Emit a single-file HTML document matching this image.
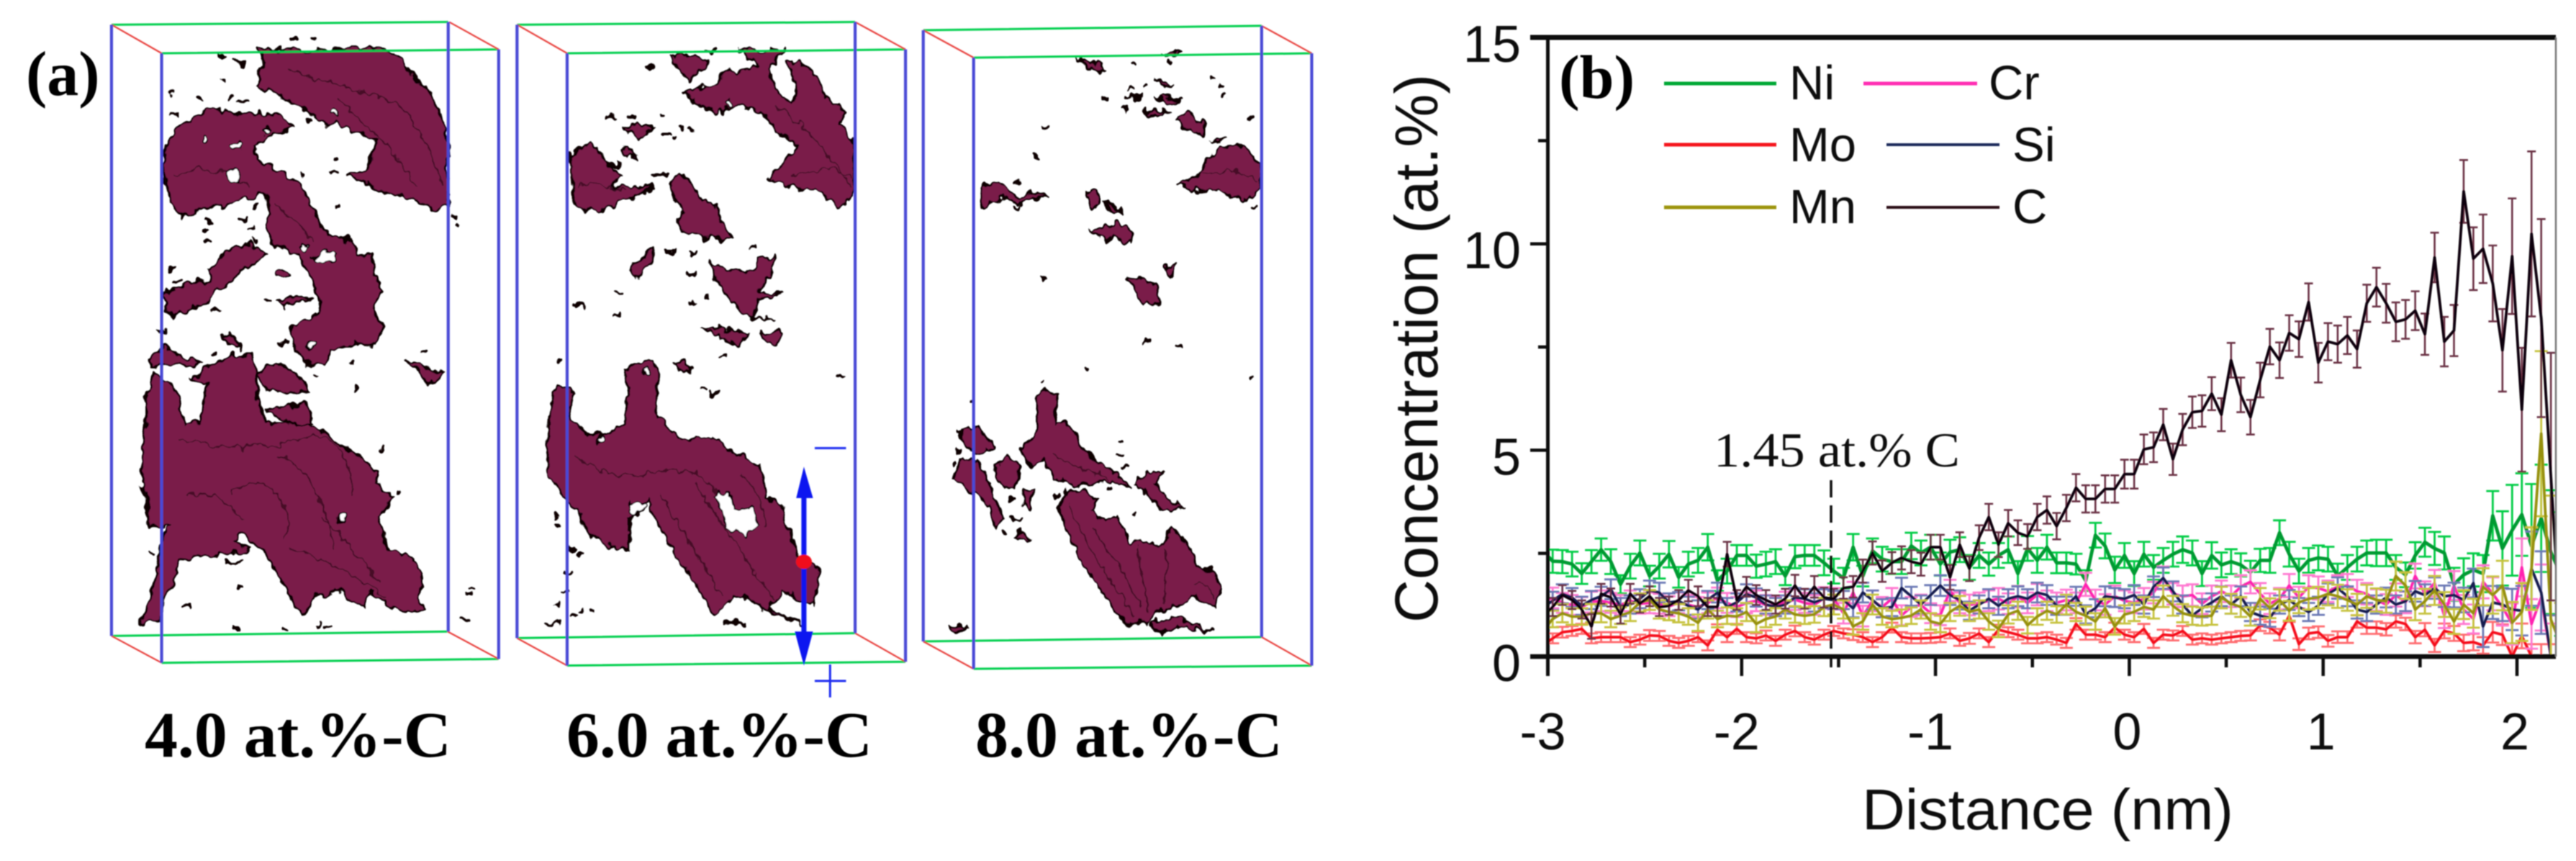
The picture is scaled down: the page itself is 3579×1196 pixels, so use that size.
<!DOCTYPE html>
<html lang="en">
<head>
<meta charset="utf-8">
<title>Carbon clusters and concentration profile</title>
<style>
html,body{margin:0;padding:0;background:#fff}
svg{display:block}
.p *{vector-effect:non-scaling-stroke}
.blob path.c{fill:#7a1f4a;stroke:#0a0106;stroke-width:3.2;stroke-linejoin:round}
.blob path.s{fill:none;stroke:#3a0a20;stroke-width:2.2;opacity:.8}
.blob path.k{fill:none;stroke:#0c0205;stroke-width:5;stroke-linecap:round}
.blob ellipse{fill:#fff;stroke:#0a0106;stroke-width:2.2}
.g{stroke:#00cf4e;stroke-width:3;fill:none}
.r{stroke:#e8403c;stroke-width:2.2;fill:none}
.b{stroke:#4a4ad6;stroke-width:4.2;fill:none}
.lab{font-family:"Liberation Serif",serif;font-weight:700;fill:#000}
.ax{font-family:"Liberation Sans",sans-serif;fill:#111}
</style>
</head>
<body>
<svg xmlns="http://www.w3.org/2000/svg" width="3579" height="1196" viewBox="0 0 3579 1196">
<defs>
<filter id="soft" x="0" y="0" width="100%" height="100%"><feGaussianBlur stdDeviation="0.8"/></filter>
<filter id="rough" x="-5%" y="-5%" width="110%" height="110%" color-interpolation-filters="sRGB"><feTurbulence type="fractalNoise" baseFrequency="0.035 0.05" numOctaves="2" seed="4" result="n"/><feDisplacementMap in="SourceGraphic" in2="n" scale="24" xChannelSelector="R" yChannelSelector="G"/></filter>
<clipPath id="plotclip"><rect x="2150" y="52" width="1401" height="860"/></clipPath>
</defs>
<rect width="3579" height="1196" fill="#fff"/>
<g filter="url(#soft)">

<text class="lab" x="36" y="132" font-size="88">(a)</text>

<g class="p" transform="scale(.4464,.7628)">
<g class="blob" filter="url(#rough)">
<path class="c" d="M800,90L1200,90 1240,105 1290,140 1340,170 1375,210 1395,250 1398,285 1385,290 1395,340 1395,375 1340,380 1280,360 1220,355 1170,345 1110,325 1080,315 1140,310 1155,285 1175,255 1130,245 1050,225 1010,225 990,215 920,190 860,175 800,155 810,130 825,115Z"/>
<path class="c" d="M515,265L550,235 600,215 650,195 720,205 790,205 880,210 910,235 850,245 790,265 800,290 850,305 900,320 940,345 980,385 1000,415 1040,430 1085,435 1110,465 1160,460 1165,500 1190,530 1160,560 1190,600 1170,630 1100,625 1030,635 1010,665 950,660 920,640 905,595 990,575 1000,550 970,510 930,470 880,450 840,440 830,410 840,385 825,350 780,360 700,375 620,380 570,395 530,370 515,330 505,300Z"/>
<path class="c" d="M505,535L590,515 660,510 650,490 690,465 760,440 800,450 830,465 760,490 700,520 640,550 580,565 540,580 515,560Z"/>
<path class="c" d="M455,720L480,680 520,690 555,720 575,775 620,770 650,700 590,690 650,670 720,645 780,645 800,680 800,725 830,770 900,770 960,770 1000,785 1050,805 1110,830 1180,860 1170,880 1225,905 1180,940 1205,1000 1290,1020 1315,1050 1300,1090 1320,1110 1230,1110 1150,1080 1130,1105 1050,1075 980,1085 940,1120 910,1095 880,1060 820,1000 750,970 730,985 780,1000 700,1010 620,1010 560,1020 540,1060 510,1090 500,1130 435,1135 470,1090 490,1030 505,980 530,955 500,960 460,955 455,900 440,880 445,820 455,770Z"/>
<path class="c" d="M800,680L830,665 880,665 920,680 965,710 900,715 830,715Z"/>
<path class="c" d="M825,745L900,740 950,735 975,770 900,770 850,755Z"/>
<path class="c" d="M1260,655L1300,665 1385,680 1350,700 1310,685Z"/>
<path class="c" d="M465,655L510,632 570,650 630,660 590,665 520,665 470,670Z"/>
<path class="c" d="M690,610L720,605 750,635 715,630Z"/>
<path class="c" d="M865,550L925,540 975,545 920,552 885,558Z"/>
<path class="s" d="M900,130Q1100,160 1200,180T1380,340M1050,180Q1200,250 1300,340M540,320Q650,290 780,340M850,370Q920,400 980,440M560,800Q760,830 920,800T1100,900M720,900Q800,860 860,900T880,980M860,830Q1000,860 1040,1000M900,1000Q1050,1020 1200,1090M580,900Q680,890 760,950M1000,940Q1100,1000 1180,1060"/>
<path class="k" d="M680,102h20M730,115h30M690,145h5M745,185h25M715,180h5M620,182h5M530,168h5M535,210h15M905,70h15M965,75h10M960,218h8M1030,315h20M1045,295h5M1050,375h5M940,318h5M790,375h10M640,403h15M635,420h10M640,440h15M745,398h20M775,415h15M790,440h10M530,490h15M540,510h20M525,530h20M660,568h20M830,548h10M490,602h25M870,622h20M660,645h5M1315,640h10M1090,663h5M980,685h8M1105,705h5M1185,818h5M1240,900h5M1465,1070h10M1455,1082h10M1435,1130h20M725,1145h15M885,1148h5M1015,1142h10M990,1140h5M465,1010h10M700,1025h55M740,1068h15M570,1105h20M1410,395h5M1420,408h5"/>
<ellipse cx="725" cy="318" rx="22" ry="10"/>
<ellipse cx="638" cy="253" rx="8" ry="5"/>
<ellipse cx="735" cy="265" rx="18" ry="6"/>
<ellipse cx="832" cy="237" rx="12" ry="5"/>
<ellipse cx="1040" cy="208" rx="10" ry="5"/>
<ellipse cx="1010" cy="468" rx="36" ry="10"/>
<ellipse cx="945" cy="452" rx="15" ry="6"/>
<ellipse cx="970" cy="628" rx="15" ry="6"/>
<ellipse cx="1065" cy="943" rx="12" ry="6"/>
<ellipse cx="880" cy="500" rx="22" ry="7" style="fill:#7a1f4a"/>
</g>
<path class="g" d="M347,45L1395,40M503,97L1552,90M347,1158L1393,1150M503,1207L1552,1200"/>
<path class="r" d="M347,45L503,97M1398,40L1552,90M347,1158L503,1207M1393,1150L1552,1200"/>
<path class="b" d="M347,45V1158M503,97V1207M1395,40V1150M1552,90V1200"/>
</g>

<g class="p" transform="translate(680,0) scale(.3954,.7628)">
<g class="blob" filter="url(#rough)">
<path class="c" d="M680,168L790,155 830,130 900,130 945,120 880,90 1040,90 980,125 1010,165 1060,190 1080,170 1060,130 1040,115 1090,110 1150,140 1180,175 1250,205 1230,225 1280,260 1280,350 1230,380 1170,350 1100,345 975,325 1040,295 1085,265 1000,235 970,210 880,190 800,205 730,190Z"/>
<path class="c" d="M640,100L700,100 770,115 700,145 660,125Z"/>
<path class="c" d="M285,280L355,262 395,280 410,295 465,320 430,340 575,340 500,360 430,375 380,385 325,380 295,365Z"/>
<path class="c" d="M470,235L520,225 580,235 530,250 490,240Z"/>
<path class="c" d="M465,270L490,268 515,285 480,285Z"/>
<path class="c" d="M635,335L670,312 710,335 750,370 800,375 810,395 850,435 760,435 670,420 660,400 680,385 650,360Z"/>
<path class="c" d="M490,490L575,450 570,480 510,505Z"/>
<path class="c" d="M775,480L830,490 925,495 945,470 1000,465 990,500 945,530 1030,535 945,545 930,575 1000,585 900,575 850,550 810,520Z"/>
<path class="c" d="M745,595L830,600 915,605 880,625 830,620Z"/>
<path class="c" d="M950,605L1030,605 1005,630 975,625Z"/>
<path class="c" d="M650,665L685,655 710,675 670,678Z"/>
<path class="c" d="M205,780L225,710 270,705 295,715 280,760 350,795 420,790 470,770 490,720 475,675 530,660 575,655 595,680 585,750 640,790 680,800 780,795 860,825 950,850 975,905 1025,920 1080,1010 1160,1040 1140,1100 1080,1090 1030,1075 980,1110 1100,1135 1000,1120 900,1085 860,1085 790,1120 720,1060 640,1000 570,930 560,905 490,945 490,1000 440,1000 350,970 310,930 270,915 205,860Z"/>
<path fill="#fff" stroke="#0a0106" stroke-width="2.4" d="M790,900L850,900 860,925 930,925 945,955 900,975 830,960 820,935Z"/>
<path class="s" d="M1000,190Q1150,240 1270,340M1060,320Q1160,300 1270,320M310,340Q400,330 480,350M300,830Q430,880 580,860T800,900M600,900Q700,980 820,1090M720,880Q850,980 1000,1090M880,860Q960,900 970,960"/>
<path class="k" d="M415,211h25M490,214h20M555,118h15M605,211h8M610,245h25M670,233h8M705,237h8M650,250h5M575,318h50M430,300h25M620,460h30M710,462h20M700,500h20M445,533h12M700,550h18M760,543h8M440,575h20M300,555h30M240,655h6M815,650h15M745,710h10M775,715h25M1225,685h20M920,450h8M235,940h8M235,955h8M285,1000h15M310,1012h15M270,1045h15M255,1078h20M235,1102h6M290,1120h15M320,1110h6M355,1115h6M195,1135h50M760,92h35M830,1135h60"/>
<ellipse cx="552" cy="678" rx="11" ry="5"/>
<ellipse cx="845" cy="188" rx="10" ry="5"/>
<ellipse cx="395" cy="802" rx="16" ry="7"/>
<ellipse cx="520" cy="925" rx="30" ry="13"/>
</g>
<path class="g" d="M97,45L1285,40M273,97L1462,90M97,1162L1285,1153M273,1212L1462,1205"/>
<path class="r" d="M97,45L273,97M1285,40L1462,90M97,1162L273,1212M1285,1153L1462,1205"/>
<path class="b" d="M97,45V1162M273,97V1212M1285,40V1153M1462,90V1205"/>
<g>
<path d="M1105,890V1170" stroke="#0818f0" stroke-width="7" fill="none"/>
<path d="M1078,907L1105,850 1137,907Z" fill="#0818f0"/>
<path d="M1073,1150L1105,1212 1137,1150Z" fill="#0818f0"/>
<ellipse cx="1105" cy="1023" rx="28" ry="13" fill="#f0101c"/>
<path d="M1143,816H1253" stroke="#1a2af0" stroke-width="3" fill="none"/>
<path d="M1143,1240H1253M1197,1210V1270" stroke="#1a2af0" stroke-width="3" fill="none"/>
</g>
</g>

<g class="p" transform="translate(1240,0) scale(.3954,.7628)">
<g class="blob" filter="url(#rough)">
<path class="c" d="M1000,335L1070,320 1110,290 1150,270 1230,265 1295,300 1295,345 1240,365 1150,350 1060,345Z"/>
<path class="c" d="M310,340L375,335 410,345 445,365 490,350 550,355 490,362 450,375 400,360 350,365 315,380Z"/>
<path class="c" d="M650,105L750,125 730,132 680,120Z"/>
<path class="c" d="M945,95L1015,92 1000,102 960,102Z"/>
<path class="c" d="M920,145L985,155 960,160Z"/>
<path class="c" d="M925,175L1015,182 970,190Z"/>
<path class="c" d="M885,200L975,205 925,212Z"/>
<path class="c" d="M1000,215L1050,208 1095,225 1095,245 1040,240Z"/>
<path class="c" d="M1120,255L1170,250 1150,260Z"/>
<path class="c" d="M680,350L720,350 725,375 700,380Z"/>
<path class="c" d="M740,370L805,382 770,385Z"/>
<path class="c" d="M695,420L750,410 790,405 840,420 835,440 770,435 730,435Z"/>
<path class="c" d="M820,505L880,510 925,520 940,555 880,555 860,535Z"/>
<path class="c" d="M955,490L995,478 975,510Z"/>
<path class="c" d="M505,760L510,720 540,710 580,720 570,770 620,775 650,800 700,835 780,860 840,890 760,875 640,885 570,870 530,840 490,850 450,820 510,790Z"/>
<path class="c" d="M245,780L300,780 355,810 340,822 285,825 240,800Z"/>
<path class="c" d="M240,835L300,840 340,880 390,945 360,960 340,920 290,900 215,870Z"/>
<path class="c" d="M355,850L400,830 450,850 430,885 380,885Z"/>
<path class="c" d="M460,895L495,890 480,925 460,920Z"/>
<path class="c" d="M430,980L460,965 485,985Z"/>
<path class="c" d="M850,880L900,860 955,862 920,880 975,910 1025,925 950,930 890,900Z"/>
<path class="c" d="M585,925L610,895 680,895 720,910 700,930 750,950 790,940 830,985 960,990 980,960 1040,990 1070,1030 1140,1045 1150,1080 1130,1105 1060,1085 1000,1105 940,1110 900,1130 830,1140 780,1110 720,1065 660,1020 620,975Z"/>
<path class="c" d="M900,1135L1000,1125 1130,1152 1000,1140 950,1155Z"/>
<path class="c" d="M200,1140L260,1142 215,1155Z"/>
<path class="s" d="M1090,315Q1190,310 1285,325M620,920Q720,1030 850,1120M700,960Q800,1030 880,1110M860,1000Q880,1060 900,1110M960,1000Q970,1060 950,1100M1060,1070Q1100,1050 1130,1090M560,830Q650,850 760,870"/>
<path class="k" d="M530,234h15M500,285h6M845,118h5M975,112h5M1120,143h6M1150,157h6M1160,175h10M740,180h15M815,198h10M1250,217h15M835,163h5M885,155h5M825,178h50M430,378h10M430,333h20M525,502h6M890,620h10M1000,631h12M678,673h8M525,694h4M1258,691h6M275,730h6M230,785h6M225,820h15M795,808h10M790,828h15M810,845h20M570,902h12M760,890h8M845,936h6M415,912h15M420,945h30M390,973h6M215,843h4M1265,377h10"/>
</g>
<path class="g" d="M108,55L1297,47M285,105L1473,97M108,1168L1297,1160M285,1218L1473,1212"/>
<path class="r" d="M108,55L285,105M1297,47L1473,97M108,1168L285,1218M1297,1160L1473,1212"/>
<path class="b" d="M108,55V1168M285,105V1218M1297,47V1160M1473,97V1212"/>
</g>

<text class="lab" x="201" y="1051" font-size="90" textLength="426" lengthAdjust="spacingAndGlyphs">4.0 at.%-C</text>
<text class="lab" x="787" y="1051" font-size="90" textLength="425" lengthAdjust="spacingAndGlyphs">6.0 at.%-C</text>
<text class="lab" x="1355" y="1051" font-size="90" textLength="427" lengthAdjust="spacingAndGlyphs">8.0 at.%-C</text>

<g id="chart">
<g id="series-layer" clip-path="url(#plotclip)"></g>
<g id="axis-layer"></g>
<path d="M3551,52V912" stroke="#777" stroke-width="2.5" fill="none"/>
<path d="M2544,667V927" stroke="#111" stroke-width="3.5" stroke-dasharray="24 11" fill="none"/>
<text x="2381" y="648" font-size="68" textLength="342" lengthAdjust="spacingAndGlyphs" font-family="'Liberation Serif',serif" fill="#111">1.45 at.% C</text>
<text class="ax" transform="translate(1997,865) rotate(-90)" font-size="84" textLength="762" lengthAdjust="spacingAndGlyphs">Concentration (at.%)</text>
<text class="ax" x="2587" y="1152" font-size="80" textLength="516" lengthAdjust="spacingAndGlyphs">Distance (nm)</text>
<text class="lab" x="2166" y="136" font-size="86">(b)</text>
<g>
<path d="M2312,116H2468" stroke="#00a835" stroke-width="5" fill="none"/>
<text class="ax" x="2486" y="138" font-size="67">Ni</text>
<path d="M2312,201H2468" stroke="#f5141c" stroke-width="5" fill="none"/>
<text class="ax" x="2486" y="224" font-size="67">Mo</text>
<path d="M2312,288H2468" stroke="#9c9410" stroke-width="5" fill="none"/>
<text class="ax" x="2486" y="310" font-size="67">Mn</text>
<path d="M2589,116H2747" stroke="#ff2fb4" stroke-width="5" fill="none"/>
<text class="ax" x="2763" y="138" font-size="67">Cr</text>
<path d="M2621,201H2778" stroke="#1c2a5c" stroke-width="4" fill="none"/>
<text class="ax" x="2796" y="224" font-size="67">Si</text>
<path d="M2621,288H2778" stroke="#2a1018" stroke-width="4" fill="none"/>
<text class="ax" x="2796" y="310" font-size="67">C</text>
</g>
</g>
</g>
</svg>
<script>
const distanceStart = -3.025;
const distanceStep = 0.05;
const xMajorTicks = [-3, -2, -1, 0, 1, 2];
const xMinorTicks = [-2.5, -1.5, -0.5, 0.5, 1.5];
const yMajorTicks = [0, 5, 10, 15];
const yMinorTicks = [2.5, 7.5, 12.5];

const niValues = [2.56,2.31,2.30,2.24,2.01,2.30,2.59,2.30,1.75,2.19,2.51,1.95,2.19,2.48,1.92,2.24,2.33,2.65,1.84,2.07,2.45,2.45,2.19,2.24,2.30,1.95,2.42,2.45,2.45,2.27,2.07,1.90,2.65,1.95,2.56,2.36,2.30,2.30,2.68,2.51,2.65,2.24,2.53,2.59,2.16,2.45,2.24,2.45,2.59,2.01,2.62,2.33,2.65,2.27,2.27,2.24,1.84,2.94,2.68,2.10,2.45,2.01,2.48,2.16,2.33,2.48,2.59,2.51,2.01,2.45,2.22,2.30,2.22,2.04,2.33,2.33,3.00,2.48,2.07,2.33,2.39,2.36,1.95,2.16,2.36,2.51,2.51,2.51,2.16,1.98,2.45,2.77,2.62,2.51,1.75,1.98,2.10,2.01,3.41,2.62,3.06,3.44,2.68,3.35,2.53,2.0];
const moValues = [.27,.44,.59,.62,.67,.44,.47,.47,.47,.35,.41,.51,.50,.38,.33,.38,.47,.27,.65,.47,.67,.47,.44,.51,.38,.53,.62,.47,.41,.53,.62,.56,.53,.47,.35,.47,.70,.47,.44,.44,.45,.47,.56,.38,.44,.56,.35,.65,.59,.53,.44,.44,.47,.41,.33,.79,.53,.53,.47,.70,.53,.47,.67,.33,.53,.51,.62,.41,.44,.41,.44,.47,.50,.51,.76,.70,.53,.99,.30,.56,.59,.38,.47,.47,.85,.70,.70,.66,.85,.79,.47,.65,.27,.62,.56,.33,.35,.27,.59,.53,0,.50,0,0,0,0];
const crValues = [1.35,1.42,1.3,1.25,1.2,1.32,1.35,1.3,1.25,1.35,1.28,1.3,1.28,1.22,1.3,1.25,1.2,1.3,1.42,1.3,1.2,1.3,1.35,1.25,1.22,1.32,1.38,1.3,1.25,1.42,1.4,1.05,1.55,.98,1.35,1.2,1.4,1.0,1.2,1.25,1.05,1.0,1.6,1.3,1.25,1.3,1.35,1.4,1.28,1.45,1.3,1.5,1.35,1.3,1.37,1.3,1.75,1.37,1.26,1.46,1.35,1.3,1.4,1.55,1.9,1.52,1.46,1.49,1.28,1.46,1.58,1.46,1.69,1.81,1.52,1.28,1.4,1.72,1.43,1.69,1.66,1.58,1.69,1.72,1.58,1.52,1.37,1.26,1.49,1.31,1.95,1.52,1.78,.99,1.72,1.14,.91,1.81,1.52,1.2,.79,2.16,.79,1.43,0,0];
const siValues = [1.2,1.35,1.52,1.43,1.23,1.37,1.46,1.63,1.2,1.26,1.4,1.6,1.55,1.31,1.34,1.23,1.14,1.37,1.55,1.2,1.31,1.52,1.43,1.26,1.2,1.26,1.43,1.4,1.31,1.4,1.37,1.37,1.17,1.55,1.37,1.17,1.2,1.66,1.46,1.26,1.49,1.72,1.49,1.37,1.11,1.26,1.4,1.23,1.4,1.46,1.4,1.55,1.49,1.23,1.23,1.46,1.02,1.17,1.46,1.43,1.4,1.49,1.26,1.69,1.9,1.58,1.26,.99,1.17,1.31,1.46,1.26,1.46,1.08,.99,.94,1.26,1.37,1.2,1.08,1.23,1.52,1.66,1.46,1.14,1.08,1.26,1.43,1.26,1.34,1.58,1.49,1.66,1.46,1.49,1.37,1.78,.73,1.31,1.26,1.14,1.11,2.13,1.55,0,0];
const mnValues = [.62,.91,1.05,.97,.97,1.05,1.05,.91,.99,1.08,1.31,1.37,1.14,1.08,1.05,.97,.82,1.14,.91,.99,.97,1.08,.79,.91,.97,1.14,1.02,.99,1.02,1.2,1.26,1.14,.73,.85,1.26,.97,.91,.94,.99,1.14,.85,.79,1.08,1.23,1.08,1.14,.85,.67,1.02,1.11,.76,.97,1.11,1.02,1.26,1.08,.99,.85,1.17,.73,1.02,1.08,1.2,1.14,1.46,1.23,1.05,.99,.97,.99,1.43,1.28,1.2,.97,1.4,1.17,1.37,1.11,1.31,1.4,1.43,1.52,1.46,1.37,1.26,1.46,1.37,1.34,1.95,1.72,1.14,1.34,1.6,1.26,.85,1.26,1.05,1.69,1.49,1.72,.82,1.08,2.13,5.4,.9,.3];
const cValues = [.97,1.2,1.49,1.37,1.14,.73,1.52,1.43,1.02,1.52,1.28,1.46,1.2,1.23,1.37,1.6,1.46,1.2,1.2,2.48,1.37,1.69,1.49,1.37,1.26,1.4,1.72,1.4,1.69,1.43,1.4,1.66,1.69,2.07,2.51,2.07,2.27,2.39,2.3,2.24,2.65,2.65,1.92,2.71,2.13,2.88,3.38,2.71,3.23,3.0,2.91,3.38,3.55,3.16,3.6,4.09,3.82,3.82,4.06,4.06,4.42,4.42,5.02,5.07,5.62,4.78,5.50,5.92,5.95,6.37,5.86,7.18,6.34,5.80,6.70,7.51,7.18,7.84,7.69,8.59,7.12,7.63,7.57,7.78,7.45,8.56,8.95,8.56,8.11,8.17,8.38,7.81,9.67,7.63,7.90,11.27,9.64,9.88,9.04,7.42,9.70,5.98,10.24,8.2,4.36,.5];

const niErrors = [.3,.28,.28,.3,.25,.28,.27,.3,.22,.3,.3,.25,.3,.32,.25,.3,.3,.32,.25,.3,.25,.25,.28,.3,.3,.22,.28,.25,.25,.3,.3,.25,.32,.25,.3,.3,.3,.3,.32,.3,.3,.28,.3,.3,.3,.3,.28,.3,.32,.3,.3,.3,.3,.25,.25,.25,.25,.3,.3,.32,.3,.3,.3,.3,.3,.3,.32,.3,.3,.32,.3,.3,.28,.28,.28,.3,.3,.3,.3,.3,.3,.3,.3,.3,.3,.3,.32,.32,.3,.3,.32,.35,.4,.4,.4,.4,.4,.45,.6,.9,1.1,1.0,1.5,1.3,1.5,1.5];
const moErrors = [.12,.12,.13,.12,.12,.12,.12,.12,.12,.12,.12,.13,.12,.12,.12,.12,.12,.12,.13,.12,.12,.12,.12,.12,.12,.12,.13,.12,.12,.12,.12,.12,.13,.12,.12,.12,.12,.12,.12,.12,.12,.12,.12,.12,.13,.12,.12,.12,.12,.12,.12,.12,.12,.12,.12,.14,.12,.12,.12,.12,.12,.12,.12,.12,.12,.12,.12,.12,.12,.12,.12,.12,.12,.12,.14,.14,.14,.15,.14,.14,.14,.14,.14,.14,.15,.15,.15,.15,.15,.15,.15,.16,.16,.18,.18,.2,.2,.2,.25,.25,.3,.3,.3,.3,.3,.3];
const crErrors = [.25,.25,.24,.24,.24,.25,.25,.24,.24,.25,.24,.25,.24,.24,.25,.24,.24,.25,.25,.24,.24,.25,.25,.24,.24,.25,.25,.24,.24,.26,.26,.25,.26,.25,.25,.24,.26,.24,.24,.25,.24,.24,.26,.25,.25,.25,.25,.26,.25,.26,.25,.26,.25,.25,.25,.25,.28,.25,.25,.26,.25,.25,.26,.26,.28,.26,.26,.26,.25,.26,.26,.26,.28,.28,.26,.25,.26,.28,.26,.28,.28,.26,.28,.28,.28,.26,.26,.25,.28,.26,.3,.3,.32,.3,.35,.35,.35,.4,.4,.45,.5,.7,.6,.8,.8,.8];
const siErrors = [.22,.22,.23,.23,.22,.22,.23,.24,.22,.22,.23,.24,.24,.22,.22,.22,.22,.22,.24,.22,.22,.23,.22,.22,.22,.22,.23,.23,.22,.23,.22,.22,.22,.24,.23,.22,.22,.25,.23,.22,.24,.25,.24,.23,.22,.22,.23,.22,.23,.24,.23,.24,.24,.22,.22,.23,.22,.22,.24,.23,.23,.24,.22,.25,.26,.24,.22,.22,.22,.22,.24,.22,.24,.22,.22,.22,.22,.24,.22,.22,.22,.25,.26,.24,.22,.22,.22,.24,.22,.24,.25,.26,.26,.26,.3,.3,.35,.5,.4,.4,.5,.6,.9,1.0,1.0,1.0];
const mnErrors = [.2,.2,.22,.2,.2,.22,.22,.2,.2,.22,.22,.24,.22,.2,.22,.2,.2,.22,.2,.2,.2,.22,.2,.2,.2,.22,.2,.2,.2,.22,.24,.22,.2,.2,.24,.2,.2,.2,.2,.22,.2,.2,.22,.24,.22,.22,.2,.2,.22,.22,.2,.2,.22,.2,.24,.22,.22,.2,.22,.2,.22,.22,.24,.22,.26,.24,.22,.22,.22,.22,.26,.24,.24,.22,.26,.24,.26,.24,.26,.26,.26,.28,.28,.26,.26,.28,.28,.28,.35,.32,.26,.3,.35,.3,.3,.35,.35,.45,.45,.6,.5,.7,1.0,2.0,3.0,1.0];
const cErrors = [.22,.22,.24,.22,.22,.3,.24,.22,.22,.24,.22,.24,.22,.22,.24,.26,.24,.22,.22,.3,.24,.24,.24,.24,.22,.24,.26,.24,.26,.24,.24,.26,.26,.28,.28,.26,.26,.28,.28,.28,.3,.3,.3,.3,.3,.3,.32,.3,.32,.3,.3,.32,.33,.32,.32,.33,.33,.33,.33,.33,.35,.35,.36,.36,.38,.38,.38,.38,.38,.4,.4,.42,.42,.42,.42,.43,.43,.43,.43,.45,.48,.45,.45,.45,.45,.45,.47,.47,.47,.47,.47,.5,.6,.6,.62,.76,.76,.83,.92,1.0,1.4,1.5,2.0,2.4,3.0,3.0];

const seriesNames = ['ni', 'mo', 'cr', 'si', 'mn', 'c'];
const seriesValues = [niValues, moValues, crValues, siValues, mnValues, cValues];
const seriesErrors = [niErrors, moErrors, crErrors, siErrors, mnErrors, cErrors];
const lineColors = ['#009a30', '#f5101a', '#ff20b0', '#141f50', '#96900a', '#0c0508'];
const barColors = ['#00cc45', '#ff6a6e', '#ff78d0', '#6a78b4', '#c6c23c', '#6a3044'];

const NS = 'http://www.w3.org/2000/svg';
const xAxisScale = d => 2150.5 + (d + 3) * 269.3;
const yAxisScale = v => 912 - v * 57.33;
const xOfIndex = i => xAxisScale(distanceStart + distanceStep * i);
const seriesLayer = document.getElementById('series-layer');
const axisLayer = document.getElementById('axis-layer');

seriesValues.forEach(function (values, s) {
  const group = document.createElementNS(NS, 'g');
  
  
  const capHalf = seriesNames[s] === 'c' ? 6 : 9;
  let barPath = '';
  values.forEach(function (v, i) {
    const e = seriesErrors[s][i];
    if (e === undefined) return;
    const x = xOfIndex(i);
    const top = yAxisScale(v + e);
    const bot = yAxisScale(v - e);
    barPath += 'M' + x + ',' + top + 'V' + bot +
      'M' + (x - capHalf) + ',' + top + 'H' + (x + capHalf) +
      'M' + (x - capHalf) + ',' + bot + 'H' + (x + capHalf);
  });
  const bars = document.createElementNS(NS, 'path');
  
  
  bars.setAttribute('d', barPath);
  bars.setAttribute('fill', 'none');
  bars.setAttribute('stroke', barColors[s]);
  bars.setAttribute('stroke-width', seriesNames[s] === 'c' ? 2.6 : 2.8);
  group.appendChild(bars);
  const line = document.createElementNS(NS, 'polyline');
  
  
  line.setAttribute('points', values.map((v, i) => xOfIndex(i) + ',' + yAxisScale(v)).join(' '));
  line.setAttribute('fill', 'none');
  line.setAttribute('stroke', lineColors[s]);
  line.setAttribute('stroke-width', seriesNames[s] === 'ni' ? 4.8 : 3.8);
  line.setAttribute('stroke-linejoin', 'round');
  group.appendChild(line);
  seriesLayer.appendChild(group);
});

function axisLine(d, width, name) {
  const p = document.createElementNS(NS, 'path');
  
  
  p.setAttribute('d', d);
  p.setAttribute('stroke', '#0a0a0a');
  p.setAttribute('stroke-width', width);
  p.setAttribute('fill', 'none');
  axisLayer.appendChild(p);
}
function axisLabel(x, y, txt, anchor, name) {
  const t = document.createElementNS(NS, 'text');
  
  
  t.setAttribute('class', 'ax');
  t.setAttribute('x', x);
  t.setAttribute('y', y);
  t.setAttribute('font-size', 72);
  t.setAttribute('text-anchor', anchor);
  t.textContent = txt;
  axisLayer.appendChild(t);
}
axisLine('M2126,52H3551', 7, 'top-axis');
axisLine('M2126,912H3551', 6.5, 'x-axis');
axisLine('M2150.5,52V939', 5, 'y-axis');
xMajorTicks.forEach(function (d) {
  const x = xAxisScale(d);
  axisLine('M' + x + ',912V939', 4.5, 'x-major-tick');
  axisLabel(x + (d < 0 ? -7 : -3), 1041, String(d), 'middle', 'x-tick-label');
});
xMinorTicks.forEach(function (d) {
  const x = xAxisScale(d);
  axisLine('M' + x + ',912V927', 4.5, 'x-minor-tick');
});
yMajorTicks.forEach(function (v) {
  const y = yAxisScale(v);
  axisLine('M2126,' + y + 'H2150', 4.5, 'y-major-tick');
  axisLabel(2113, y + 34, String(v), 'end', 'y-tick-label');
});
yMinorTicks.forEach(function (v) {
  const y = yAxisScale(v);
  axisLine('M2137,' + y + 'H2150', 4.5, 'y-minor-tick');
});
</script>
</body>
</html>
